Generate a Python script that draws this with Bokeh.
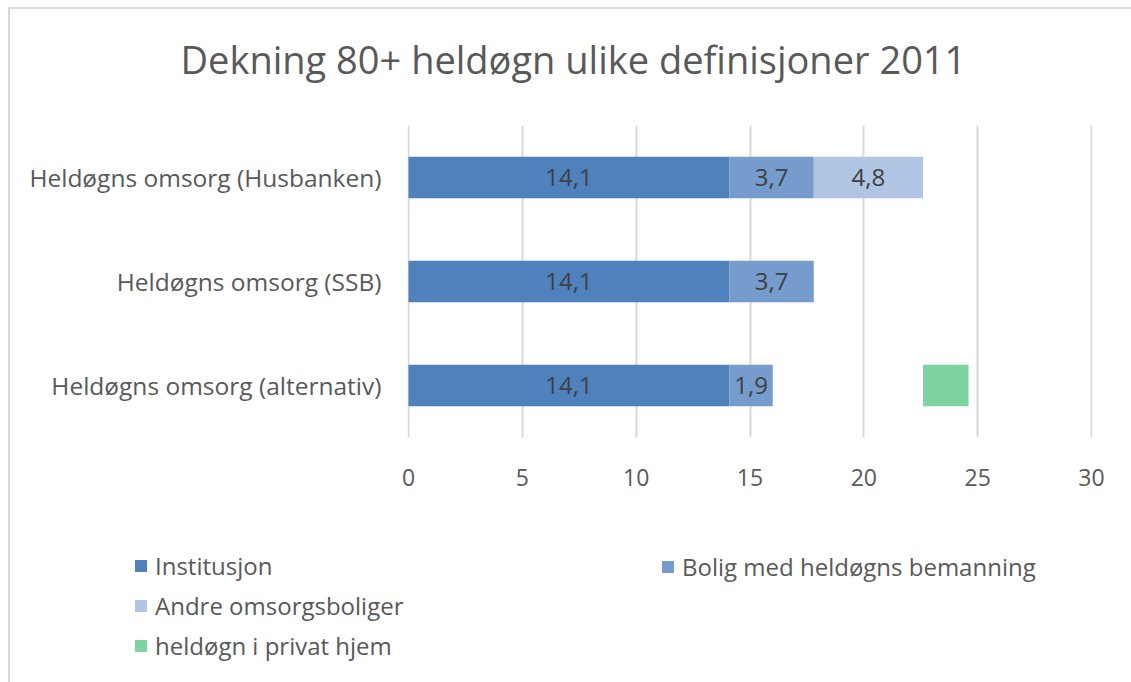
from bokeh.plotting import figure
from bokeh.layouts import column
from bokeh.models import (ColumnDataSource, FactorRange, Range1d, Legend, LegendItem,
                          LabelSet, FixedTicker, Title)
from bokeh.core.properties import value
from bokeh.embed import file_html
from bokeh.resources import INLINE

# ---- data ----
title_text = "Dekning 80+ heldøgn ulike definisjoner 2011"
categories = ["Heldøgns omsorg (Husbanken)", "Heldøgns omsorg (SSB)", "Heldøgns omsorg (alternativ)"]
series_names = ["Institusjon", "Bolig med heldøgns bemanning", "Andre omsorgsboliger", "", "heldøgn i privat hjem"]
institusjon = [14.1, 14.1, 14.1]
bolig = [3.7, 3.7, 1.9]
andre = [4.8, 0.0, 0.0]
spacer = [0.0, 0.0, 6.6]          # transparent gap before the green segment
privat = [0.0, 0.0, 2.0]
x_ticks = [0, 5, 10, 15, 20, 25, 30]

series = [institusjon, bolig, andre, spacer, privat]
colors = ["#4f81bd", "#759ccd", "#afc5e3", None, "#7dd4a1"]
show_labels = [True, True, True, False, False]

FONT = "Open Sans"
TXT = "#595959"
W = 1121
PAD = 0.044   # tiny range padding so the 0 and 30 gridlines are drawn

p = figure(width=W, height=495, output_backend="svg", toolbar_location=None, title=None,
           y_range=FactorRange(*reversed(categories)),
           x_range=Range1d(x_ticks[0] - PAD, x_ticks[-1] + PAD),
           min_border_left=397, min_border_right=39, min_border_top=116, min_border_bottom=67)
p.frame_align = False

# spacer (nearest the frame) then the real title above it
p.add_layout(Title(text=" ", text_font_size="1px", standoff=38), "above")
p.add_layout(Title(text=title_text, align="left", offset=-227, standoff=0,
                   text_font=FONT, text_font_size="38px", text_font_style="normal",
                   text_color=TXT), "above")

p.outline_line_color = None
p.background_fill_color = "white"
p.border_fill_color = "white"

p.ygrid.grid_line_color = None
p.xgrid.grid_line_color = "#d9d9d9"
p.xgrid.grid_line_width = 2

p.xaxis.ticker = FixedTicker(ticks=x_ticks)
for ax in (p.xaxis, p.yaxis):
    ax.axis_line_color = None
    ax.major_tick_line_color = None
    ax.minor_tick_line_color = None
    ax.major_tick_out = 0
    ax.major_tick_in = 0
    ax.major_label_text_font = FONT
    ax.major_label_text_color = TXT
p.xaxis.major_label_text_font_size = "23px"
p.yaxis.major_label_text_font_size = "24.5px"
p.xaxis.major_label_standoff = 31
p.yaxis.major_label_standoff = 26

# legend-only strip below the chart (same ranges, zero-height keys)
leg = figure(width=W, height=178, output_backend="svg", toolbar_location=None, title=None,
             y_range=FactorRange(*reversed(categories)), x_range=Range1d(0, 30),
             min_border_left=0, min_border_right=0, min_border_top=0, min_border_bottom=0,
             x_axis_location=None, y_axis_location=None)
leg.frame_align = False
leg.grid.grid_line_color = None
leg.outline_line_color = None
leg.background_fill_color = "white"
leg.border_fill_color = "white"

cum = [0.0] * len(categories)
keys = {}
for name, vals, col, lab in zip(series_names, series, colors, show_labels):
    ys, lefts, rights, mids, texts = [], [], [], [], []
    for c, v, base in zip(categories, vals, cum):
        if v > 0:
            ys.append(c); lefts.append(base); rights.append(base + v)
            mids.append(base + v / 2); texts.append(f"{v:.1f}".replace(".", ","))
    cum = [b + v for b, v in zip(cum, vals)]
    if col is None:
        continue
    src = ColumnDataSource(dict(y=ys, left=lefts, right=rights, mid=mids, text=texts))
    p.hbar(y="y", left="left", right="right", height=0.4, source=src,
           fill_color=col, line_color=None)
    if lab:
        p.add_layout(LabelSet(x="mid", y="y", text="text", source=src,
                              text_align="center", text_baseline="middle",
                              text_font=value(FONT), text_font_size="24px", text_color="#404040"))
    # legend key: same series, drawn with zero height so only the legend swatch shows
    keys[name] = leg.hbar(y="y", left="left", right="right", height=0, source=src,
                          fill_color=col, line_color=None)

def make_legend(names, loc):
    lg = Legend(items=[LegendItem(label=n, renderers=[keys[n]]) for n in names],
                location=loc, orientation="vertical", border_line_color=None,
                background_fill_alpha=0, padding=0, margin=0, spacing=7,
                glyph_width=15, glyph_height=15, label_standoff=7,
                label_text_font=FONT, label_text_font_size="24px", label_text_color=TXT)
    leg.add_layout(lg)

make_legend(["Institusjon", "Andre omsorgsboliger", "heldøgn i privat hjem"], (123, 20))
make_legend(["Bolig med heldøgns bemanning"], (650, 99))

layout = column(p, leg, spacing=0)
layout.styles = {"margin-left": "8px", "margin-top": "7px",
                 "border-top": "2px solid #d9d9d9", "border-left": "2px solid #d9d9d9"}

open("out.html", "w").write(file_html(layout, INLINE))
